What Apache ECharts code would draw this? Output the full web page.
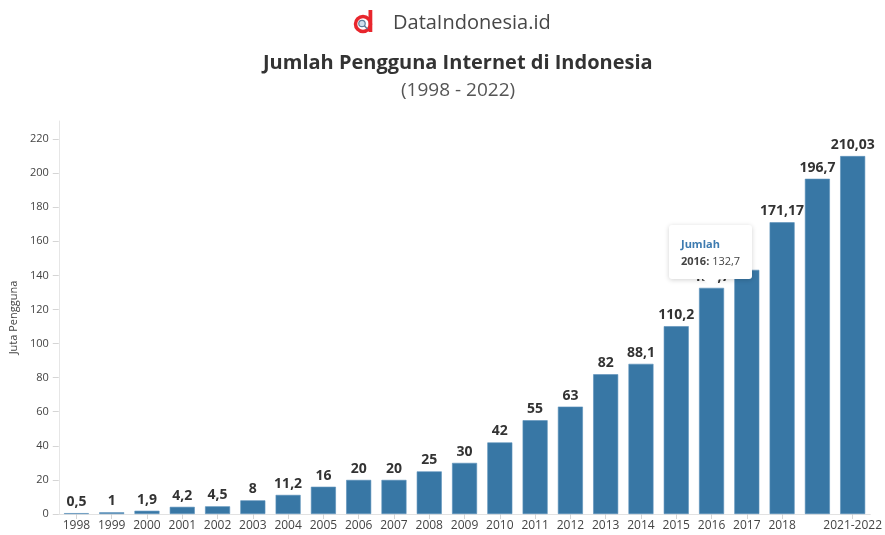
<!DOCTYPE html>
<html>
<head>
<meta charset="utf-8">
<script src="https://cdn.jsdelivr.net/npm/echarts@6/dist/echarts.min.js"></script>
<style>
html,body{margin:0;padding:0;background:#fff;}
#chart{width:885px;height:535px;}
</style>
</head>
<body>
<div id="chart"></div>
<script>
const categories = ['1998','1999','2000','2001','2002','2003','2004','2005','2006','2007','2008','2009','2010','2011','2012','2013','2014','2015','2016','2017','2018','2019-2020','2021-2022'];
const values = [0.5,1,1.9,4.2,4.5,8,11.2,16,20,20,25,30,42,55,63,82,88.1,110.2,132.7,143.26,171.17,196.7,210.03];
const yTicks = [0,20,40,60,80,100,120,140,160,180,200,220];
const hiddenLabelIndex = 21;
const hiddenValueLabelIndex = 19;
const tooltipIndex = 18;

const FONT = "'Open Sans', 'Noto Sans', sans-serif";
const chart = echarts.init(document.getElementById('chart'), null, {renderer:'canvas'});
const fmt = v => String(v).replace('.', ',');

chart.setOption({
  animation: false,
  textStyle: {fontFamily: FONT},
  title: [
    {text: 'DataIndonesia.id', left: 388, top: 8, textStyle: {fontSize: 20, fontWeight: 'normal', color: '#474747', fontFamily: FONT}},
    {text: 'Jumlah Pengguna Internet di Indonesia', left: 258, top: 48, textStyle: {fontSize: 20, fontWeight: 'bold', color: '#333', fontFamily: FONT}},
    {text: '(1998 - 2022)', left: 396, top: 76, textStyle: {fontSize: 19, fontWeight: 'normal', color: '#555', fontFamily: FONT}}
  ],
  graphic: [
    {type: 'circle', shape: {cx: 363, cy: 24, r: 7.5}, style: {fill: 'none', stroke: '#e8262d', lineWidth: 3.5}},
    {type: 'rect', shape: {x: 368.5, y: 10, width: 3.8, height: 22}, style: {fill: '#e8262d'}},
    {type: 'circle', shape: {cx: 362, cy: 23.5, r: 3.2}, style: {fill: '#cfe0ee', stroke: '#5d7f9c', lineWidth: 1.2}},
    {type: 'line', shape: {x1: 364.3, y1: 25.8, x2: 367.5, y2: 29}, style: {stroke: '#5d7f9c', lineWidth: 1.6}}
  ],
  grid: {left: 57, right: 14, top: 121, bottom: 21, containLabel: false},
  tooltip: {
    trigger: 'item',
    triggerOn: 'none',
    alwaysShowContent: true,
    transitionDuration: 0,
    backgroundColor: '#fff',
    borderColor: '#fff',
    borderWidth: 0,
    padding: [10, 12],
    extraCssText: 'box-shadow:0 1px 5px rgba(0,0,0,0.18);border-radius:3px;overflow:visible;',
    formatter: p => '<div style="font-family:' + FONT.replace(/'/g, '') + ';font-size:11px;line-height:17px;">' +
      '<div style="color:#3d7bb0;font-weight:bold;">Jumlah</div>' +
      '<div style="color:#444;"><b>' + p.name + ':</b> ' + fmt(p.value) + '</div>' +
      '<div style="position:absolute;left:50%;bottom:-8px;margin-left:-8px;width:0;height:0;border-left:8px solid transparent;border-right:8px solid transparent;border-top:8px solid #fff;"></div></div>',
    position: function (point, params, dom, rect, size) {
      const px = chart.convertToPixel({seriesIndex: 0}, [params.dataIndex, params.value]);
      return [px[0] - size.contentSize[0] / 2 - 1, px[1] - size.contentSize[1] - 9];
    }
  },
  xAxis: {
    type: 'category',
    data: categories,
    axisLine: {lineStyle: {color: '#e2e2e2'}},
    axisTick: {show: true, alignWithLabel: true, length: 5, lineStyle: {color: '#d5d5d5'}},
    axisLabel: {
      interval: (i) => i !== hiddenLabelIndex,
      color: '#444', fontSize: 12, margin: 6, fontFamily: FONT
    }
  },
  yAxis: {
    type: 'value',
    min: 0,
    max: 230.6,
    interval: 20,
    name: 'Juta Pengguna',
    nameLocation: 'middle',
    nameGap: 35,
    nameTextStyle: {color: '#444', fontSize: 11, fontFamily: FONT},
    splitLine: {show: false},
    axisLine: {show: true, lineStyle: {color: '#e6e6e6'}},
    axisTick: {show: true, length: 6, customValues: yTicks, lineStyle: {color: '#d5d5d5'}},
    axisLabel: {customValues: yTicks, color: '#444', fontSize: 11, margin: 10, fontFamily: FONT}
  },
  series: [{
    type: 'bar',
    data: values.map((v, i) => i === hiddenValueLabelIndex ? {value: v, label: {show: false}} : v),
    barWidth: 25,
    itemStyle: {color: '#3877a5', borderColor: '#5a90bb', borderWidth: 0.6},
    label: {
      show: true, position: 'top', distance: 4,
      formatter: p => fmt(p.value),
      color: '#333', fontSize: 14, fontWeight: 'bold', fontFamily: FONT
    }
  }]
});

chart.dispatchAction({type: 'showTip', seriesIndex: 0, dataIndex: tooltipIndex});
</script>
</body>
</html>
